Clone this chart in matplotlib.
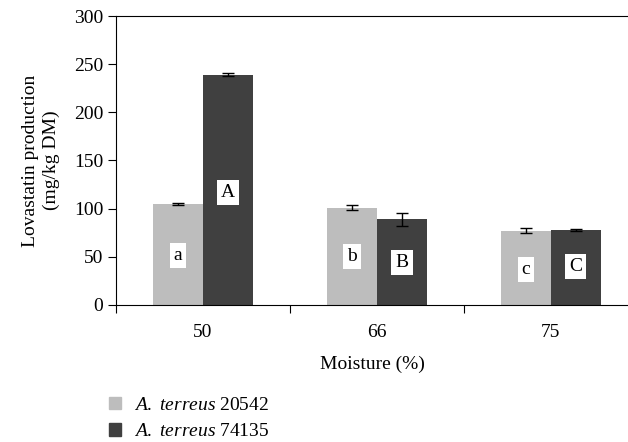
import numpy as np
import matplotlib
matplotlib.use("Agg")
import matplotlib.pyplot as plt

plt.rcParams['font.family'] = ['Liberation Serif', 'DejaVu Serif']
plt.rcParams['mathtext.fontset'] = 'custom'
plt.rcParams['mathtext.rm'] = 'Liberation Serif'
plt.rcParams['mathtext.it'] = 'Liberation Serif:italic'

moisture = ['50', '66', '75']
strain_20542 = [105, 101, 77]
err_20542 = [1, 2.5, 2.5]
strain_74135 = [239, 89, 78]
err_74135 = [1.5, 7, 1]
letters_20542 = ['a', 'b', 'c']
letters_74135 = ['A', 'B', 'C']
letter_y_20542 = [51, 50, 37]
letter_y_74135 = [117, 44, 40]

light = '#bdbdbd'
dark = '#404040'
fs = 14

fig = plt.figure(figsize=(6.28, 4.42), dpi=100)
ax = fig.add_axes([0.1847, 0.310, 0.8153, 0.6538])

x = np.arange(len(moisture)) + 0.5
w = 0.287
ax.bar(x - w / 2, strain_20542, w, color=light, yerr=err_20542, capsize=4,
       error_kw=dict(elinewidth=1, capthick=1, ecolor='black'))
ax.bar(x + w / 2, strain_74135, w, color=dark, yerr=err_74135, capsize=4,
       error_kw=dict(elinewidth=1, capthick=1, ecolor='black'))

box = dict(facecolor='white', edgecolor='none', pad=3)
for i in range(len(moisture)):
    ax.text(x[i] - w / 2, letter_y_20542[i], letters_20542[i], ha='center', va='center',
            fontsize=fs, bbox=box)
    ax.text(x[i] + w / 2, letter_y_74135[i], letters_74135[i], ha='center', va='center',
            fontsize=fs, bbox=box)

ax.set_xlim(0, 2.943)
ax.set_ylim(0, 300)
ax.set_xticks([0, 1, 2])
ax.set_xticklabels([])
ax.set_xticks(x, minor=True)
ax.set_xticklabels(moisture, minor=True)
ax.tick_params(axis='x', which='minor', length=0, labelsize=fs, pad=14)
ax.tick_params(axis='x', which='major', direction='out', length=6)
ax.set_yticks(np.arange(0, 301, 50))
ax.tick_params(axis='y', labelsize=fs, length=6, direction='out', pad=3)
ax.spines['right'].set_visible(False)
ax.set_xlabel('Moisture (%)', fontsize=fs, labelpad=10)
ax.set_ylabel('Lovastatin production\n(mg/kg DM)', fontsize=fs, labelpad=10, linespacing=1.3)

handles = [plt.Rectangle((0, 0), 1, 1, color=light), plt.Rectangle((0, 0), 1, 1, color=dark)]
fig.legend(handles, [r'$\it{A.\ terreus}$ 20542', r'$\it{A.\ terreus}$ 74135'],
           loc='lower left', bbox_to_anchor=(0.146, -0.036), frameon=False, fontsize=fs,
           handlelength=0.6, handleheight=0.6, handletextpad=0.7, labelspacing=0.5)

fig.savefig('out.png', dpi=100)
